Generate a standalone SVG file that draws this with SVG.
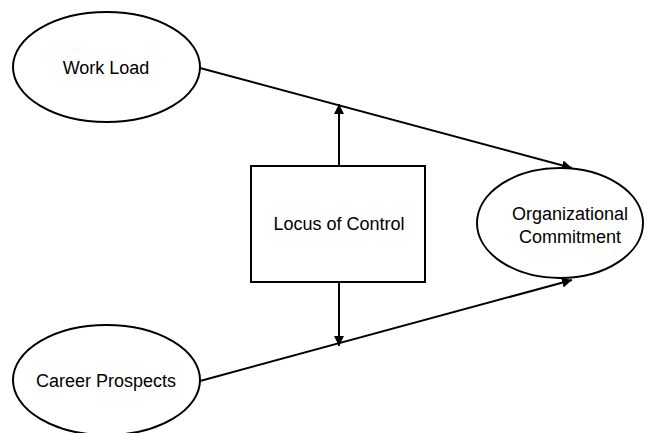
<svg xmlns="http://www.w3.org/2000/svg" width="652" height="433" viewBox="0 0 652 433">
<style>
.n{fill:#fff;stroke:#000;stroke-width:2}
.t{font-family:"Liberation Sans",Arial,sans-serif;font-size:18px;fill:#000;text-anchor:middle}
.c{stroke:#000;stroke-width:2;fill:none;marker-end:url(#ah)}
</style>
<defs>
<marker id="ah" viewBox="0 0 10 10" refX="10" refY="5" markerWidth="5" markerHeight="5" orient="auto" markerUnits="strokeWidth">
<path d="M0,0 L10,5 L0,10 z" fill="#000"/>
</marker>
</defs>
<rect width="652" height="433" fill="#fff"/>
<g id="connectors">
<path class="c" d="M200,68 L572,168"/>
<path class="c" d="M200,381 L572,280"/>
<path class="c" d="M339,166 L339,104"/>
<path class="c" d="M339,282 L339,346"/>
</g>
<g id="work-load">
<ellipse class="n" cx="106.5" cy="67" rx="93.5" ry="55"/>
<text class="t" x="106" y="74">Work Load</text>
</g>
<g id="career-prospects">
<ellipse class="n" cx="106.5" cy="380" rx="93.5" ry="55"/>
<text class="t" x="106" y="387">Career Prospects</text>
</g>
<g id="locus-of-control">
<rect class="n" x="251" y="166" width="174" height="116"/>
<text class="t" x="339" y="230">Locus of Control</text>
</g>
<g id="organizational-commitment">
<ellipse class="n" cx="560" cy="223" rx="83" ry="55"/>
<text class="t" x="570" y="220">Organizational</text>
<text class="t" x="570" y="243">Commitment</text>
</g>
</svg>
